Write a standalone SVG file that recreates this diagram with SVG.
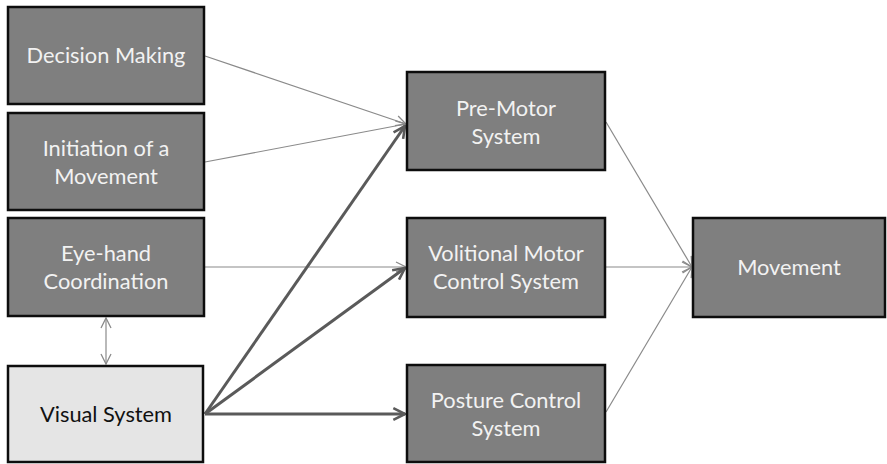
<svg xmlns="http://www.w3.org/2000/svg" width="887" height="464" viewBox="0 0 887 464">
<style>
.box{fill:#7f7f7f;stroke:#0d0d0d;stroke-width:2.5}
.light{fill:#e5e5e5;stroke:#0d0d0d;stroke-width:2.5}
.t{font-family:Lato,"Open Sans",sans-serif;font-size:21.8px;fill:#f2f2f2;text-anchor:middle}
.td{fill:#111}
.thin{stroke:#8a8a8a;stroke-width:1.2;fill:none}
.thick{stroke:#5a5a5a;stroke-width:3;fill:none}
</style>
<defs>
<marker id="ah" viewBox="0 0 12 12" refX="11" refY="6" markerWidth="12" markerHeight="12" markerUnits="userSpaceOnUse" orient="auto-start-reverse">
<path d="M1,1 L11,6 L1,11" fill="none" stroke="#8a8a8a" stroke-width="1.3"/>
</marker>
<marker id="ahk" viewBox="0 0 12 12" refX="11" refY="6" markerWidth="14" markerHeight="14" markerUnits="userSpaceOnUse" orient="auto">
<path d="M1,1 L11,6 L1,11" fill="none" stroke="#5a5a5a" stroke-width="2.2"/>
</marker>
</defs>
<g id="connectors">
<line class="thin" x1="205" y1="56" x2="406" y2="124" marker-end="url(#ah)"/>
<line class="thin" x1="205" y1="162" x2="406" y2="124" marker-end="url(#ah)"/>
<line class="thin" x1="205" y1="267" x2="406" y2="267" marker-end="url(#ah)"/>
<line class="thin" x1="106" y1="318" x2="106" y2="364" marker-start="url(#ah)" marker-end="url(#ah)"/>
<line class="thick" x1="205" y1="414" x2="405" y2="126" marker-end="url(#ahk)"/>
<line class="thick" x1="205" y1="414" x2="405" y2="268" marker-end="url(#ahk)"/>
<line class="thick" x1="205" y1="414" x2="405" y2="414" marker-end="url(#ahk)"/>
<line class="thin" x1="606" y1="122" x2="692" y2="267" marker-end="url(#ah)"/>
<line class="thin" x1="606" y1="267" x2="692" y2="267" marker-end="url(#ah)"/>
<line class="thin" x1="606" y1="412" x2="692" y2="267" marker-end="url(#ah)"/>
</g>
<g id="decision"><rect class="box" x="8" y="7" width="196" height="97"/><text class="t" x="106" y="63">Decision Making</text></g>
<g id="initiation"><rect class="box" x="8" y="113" width="196" height="97"/><text class="t" x="106" y="156">Initiation of a</text><text class="t" x="106" y="184">Movement</text></g>
<g id="eyehand"><rect class="box" x="8" y="218" width="196" height="98"/><text class="t" x="106" y="261">Eye-hand</text><text class="t" x="106" y="289">Coordination</text></g>
<g id="visual"><rect class="light" x="8" y="366" width="195" height="96"/><text class="t td" x="106" y="422">Visual System</text></g>
<g id="premotor"><rect class="box" x="407" y="72" width="198" height="98"/><text class="t" x="506" y="116">Pre-Motor</text><text class="t" x="506" y="144">System</text></g>
<g id="volitional"><rect class="box" x="407" y="218" width="198" height="99"/><text class="t" x="506" y="261">Volitional Motor</text><text class="t" x="506" y="289">Control System</text></g>
<g id="posture"><rect class="box" x="407" y="365" width="198" height="97"/><text class="t" x="506" y="408">Posture Control</text><text class="t" x="506" y="436">System</text></g>
<g id="movement"><rect class="box" x="693" y="218" width="192" height="99"/><text class="t" x="789" y="275">Movement</text></g>
</svg>
